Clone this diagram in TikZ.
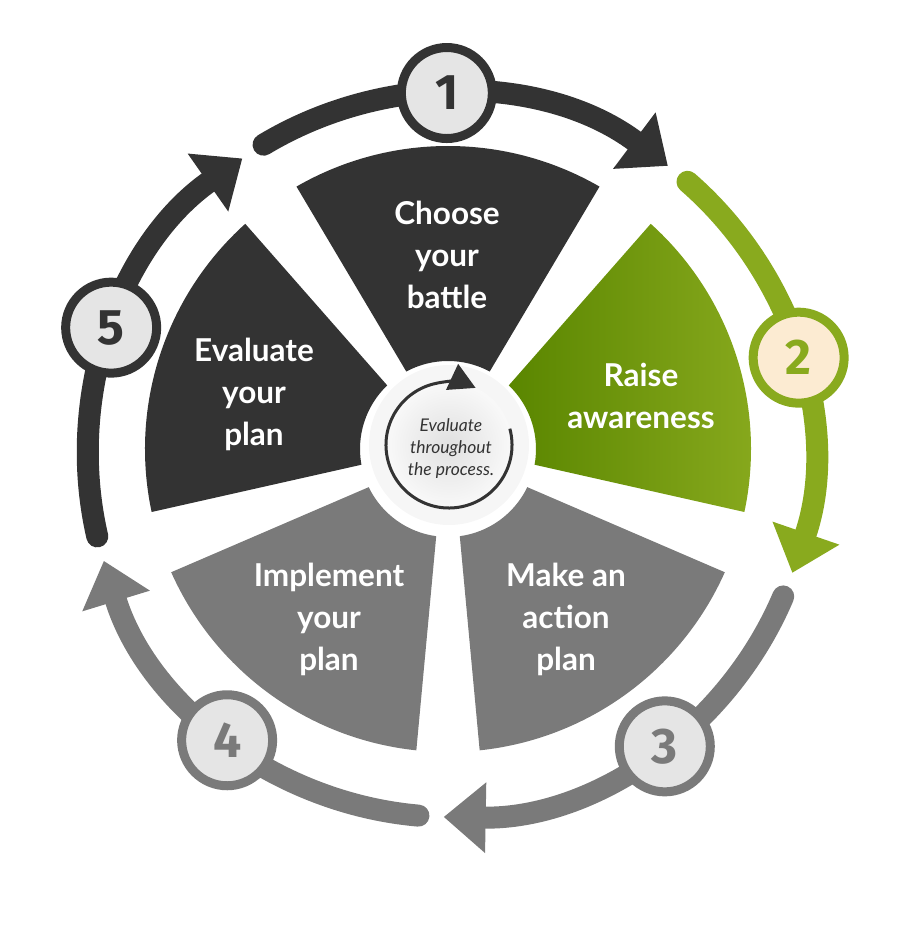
\documentclass[tikz,border=0pt]{standalone}
\usepackage{fontspec}
\setmainfont{Lato}
\newfontfamily\numfont{Fira Sans}
\usepackage{tikz}
\usetikzlibrary{arrows.meta,calc}
\definecolor{darkcol}{HTML}{333333}
\definecolor{greencol}{HTML}{89AA1E}
\definecolor{greendeep}{HTML}{5A8600}
\definecolor{graycol}{HTML}{7A7A7A}
\definecolor{discfill}{HTML}{E5E5E5}
\definecolor{creamfill}{HTML}{FCEBD2}

\tikzset{
  ring/.style={line width=22pt, line cap=round, -{Triangle[length=42pt,width=68pt]}},
  numdisc/.style={circle, minimum size=91pt, inner sep=0pt, line width=9pt, fill=discfill,
    font=\numfont\bfseries\fontsize{50}{50}\selectfont},
  steptext/.style={text=white, align=center, font=\bfseries\fontsize{31.5}{42}\selectfont},
}

\begin{document}
\begin{tikzpicture}[x=1pt, y=1pt]
\useasboundingbox (-450,-492) rectangle (450,455);

% the five steps
\begin{scope}[shift={(-2,6)}]
\fill[darkcol] (120:303pt) arc[start angle=120, end angle=60, radius=303pt]
  -- (61.7:88pt) arc[start angle=61.7, end angle=118.3, radius=88pt] -- cycle;
\shade[left color=greendeep, right color=greencol] (48:303pt) arc[start angle=48, end angle=-12, radius=303pt]
  -- (-10.3:88pt) arc[start angle=-10.3, end angle=46.3, radius=88pt] -- cycle;
\fill[graycol] (-24:303pt) arc[start angle=-24, end angle=-84, radius=303pt]
  -- (-82.3:88pt) arc[start angle=-82.3, end angle=-25.7, radius=88pt] -- cycle;
\fill[graycol] (-96:303pt) arc[start angle=-96, end angle=-156, radius=303pt]
  -- (-154.3:88pt) arc[start angle=-154.3, end angle=-97.7, radius=88pt] -- cycle;
\fill[darkcol] (192:303pt) arc[start angle=192, end angle=132, radius=303pt]
  -- (133.7:88pt) arc[start angle=133.7, end angle=190.3, radius=88pt] -- cycle;
\end{scope}

% centre
\begin{scope}[shift={(-1,10)}]
\fill[gray!7] (0,0) circle (80pt);
\shade[inner color=gray!24, outer color=gray!5] (0,0) circle (63pt);
\draw[darkcol, line width=3pt, -{Triangle[length=26pt,width=28pt]}]
  (15:63pt) arc[start angle=15, end angle=-295, radius=63pt];
\end{scope}
\node[text=darkcol, align=center, font=\itshape\fontsize{17.5}{22}\selectfont] (mid) at (1,6)
  {Evaluate\\throughout\\the process.};

% outer cycle
\draw[darkcol, ring] (121:362pt) arc[start angle=121, end angle=53, radius=362pt];
\draw[greencol, ring] (49:362pt) arc[start angle=49, end angle=-19, radius=362pt];
\draw[graycol, ring] (-23:362pt) arc[start angle=-23, end angle=-91, radius=362pt];
\draw[graycol, ring] (-95:362pt) arc[start angle=-95, end angle=-163, radius=362pt];
\draw[darkcol, ring] (193:362pt) arc[start angle=193, end angle=125, radius=362pt];

\node[numdisc, draw=darkcol, text=darkcol] (n1) at (90.5:362pt) {1};
\node[numdisc, draw=greencol, fill=creamfill, text=greencol] (n2) at (15.6:362pt) {2};
\node[numdisc, draw=graycol, text=graycol] (n3) at (-53.6:362pt) {3};
\node[numdisc, draw=graycol, text=graycol] (n4) at (-128:362pt) {4};
\node[numdisc, draw=darkcol, text=darkcol] (n5) at (159.4:362pt) {5};

\node[steptext] (choose) at (-3,200) {Choose\\your\\battle};
\node[steptext] (raise) at (191,59) {Raise\\awareness};
\node[steptext] (evalplan) at (-196,61) {Evaluate\\your\\plan};
\node[steptext] (implement) at (-121,-164) {Implement\\your\\plan};
\node[steptext] (makeplan) at (116,-164) {Make an\\action\\plan};
\end{tikzpicture}
\end{document}
